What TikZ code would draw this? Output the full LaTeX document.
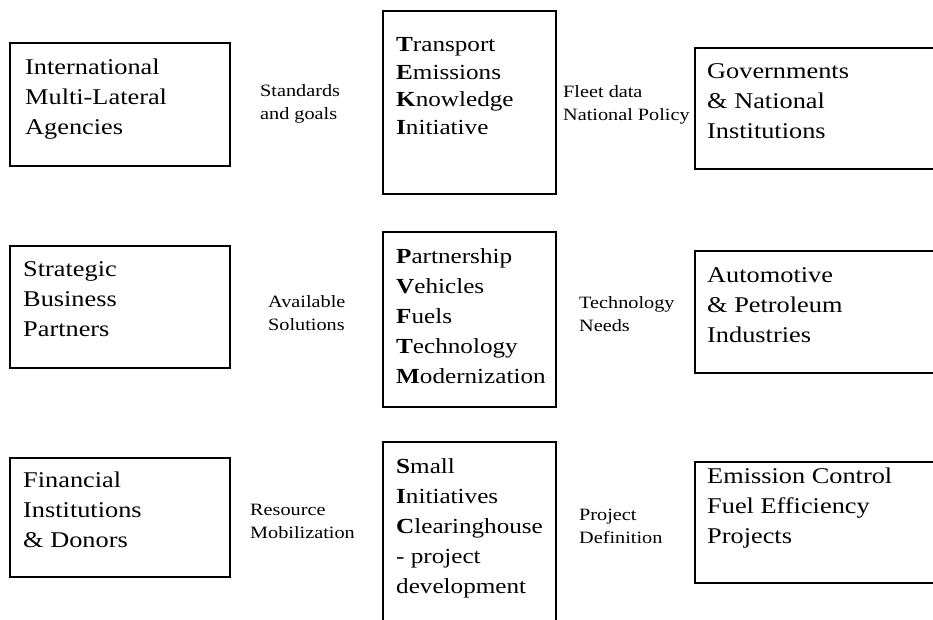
\documentclass[tikz,border=0pt]{standalone}
\usepackage{fontspec}
\setmainfont{Liberation Serif}[FakeStretch=1.17]
\begin{document}
\begin{tikzpicture}[x=1pt,y=-1pt,
  box/.style={draw, line width=1.3pt, anchor=north west, inner sep=0pt, outer sep=0pt},
  btext/.style={anchor=base west, align=left, inner sep=0pt, font=\fontsize{22.5}{30}\selectfont},
  mtext/.style={btext, font=\fontsize{21.5}{30}\selectfont},
  lab/.style={anchor=base west, align=left, inner sep=0pt, font=\fontsize{17.3}{23}\selectfont}]
\useasboundingbox (0,0) rectangle (933,619);
\clip (0,0) rectangle (933,619);
% boxes
\node[box, minimum width=220pt, minimum height=123pt] (intl) at (10,43) {};
\node[box, minimum width=173pt, minimum height=183pt] (teki) at (383,11) {};
\node[box, minimum width=260pt, minimum height=121pt] (gov) at (695,48) {};
\node[box, minimum width=220pt, minimum height=122pt] (sbp) at (10,246) {};
\node[box, minimum width=173pt, minimum height=175pt] (pvftm) at (383,232) {};
\node[box, minimum width=260pt, minimum height=122pt] (auto) at (695,251) {};
\node[box, minimum width=220pt, minimum height=119pt] (fin) at (10,458) {};
\node[box, minimum width=173pt, minimum height=200pt] (sic) at (383,442) {};
\node[box, minimum width=260pt, minimum height=121pt] (emis) at (695,462) {};
% box texts (anchor = baseline of the last line)
\node[btext] (tintl) at (25,134) {International\\Multi-Lateral\\Agencies};
\node[mtext, font=\fontsize{21.5}{27.5}\selectfont] (tteki) at (396,134) {\textbf{T}ransport\\\textbf{E}missions\\\textbf{K}nowledge\\\textbf{I}nitiative};
\node[btext] (tgov) at (707,138) {Governments\\\& National\\Institutions};
\node[btext] (tsbp) at (23,336) {Strategic\\Business\\Partners};
\node[mtext] (tpvftm) at (396,383) {\textbf{P}artnership\\\textbf{V}ehicles\\\textbf{F}uels\\\textbf{T}echnology\\\textbf{M}odernization};
\node[btext] (tauto) at (707,342) {Automotive\\\& Petroleum\\Industries};
\node[btext] (tfin) at (23,547) {Financial\\Institutions\\\& Donors};
\node[mtext] (tsic) at (396,593) {\textbf{S}mall\\\textbf{I}nitiatives\\\textbf{C}learinghouse\\- project\\development};
\node[btext] (temis) at (707,543) {Emission Control\\Fuel Efficiency\\Projects};
% labels
\node[lab] (l1) at (260,119) {Standards\\and goals};
\node[lab] (l2) at (563,120) {Fleet data\\National Policy};
\node[lab] (l3) at (268,330) {Available\\Solutions};
\node[lab] (l4) at (579,331) {Technology\\Needs};
\node[lab] (l5) at (250,538) {Resource\\Mobilization};
\node[lab] (l6) at (579,543) {Project\\Definition};
\end{tikzpicture}
\end{document}
